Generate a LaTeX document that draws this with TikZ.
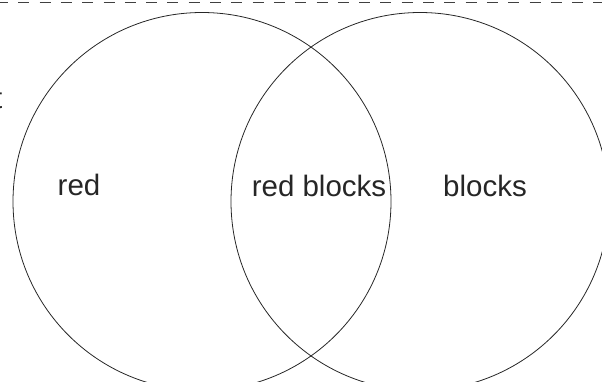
\documentclass[tikz,border=0pt]{standalone}
\usepackage{fontspec}
\setmainfont{Liberation Sans}
\begin{document}
\begin{tikzpicture}[x=1pt,y=-1pt,
  setcircle/.style={draw=black!85,line width=0.8pt},
  setlabel/.style={font=\fontsize{29.5}{36}\selectfont,text=black!85,inner sep=0pt,anchor=base},
  topline/.style={draw=black!75,line width=0.9pt,dash pattern=on 11pt off 10.3pt,dash phase=3pt}]
\useasboundingbox (0,0) rectangle (602,381);
\clip (0,0) rectangle (602,381);
\coordinate (tl) at (0,2.5);
\coordinate (tr) at (602,2.5);
\draw[topline] (tl) -- (tr);
\node[setcircle,circle,minimum size=378pt,inner sep=0pt] (A) at (202,201.5) {};
\node[setcircle,circle,minimum size=378pt,inner sep=0pt] (B) at (420,201.5) {};
\node[setlabel] (la) at (79,195) {red};
\node[setlabel] (lab) at (319,196) {red blocks};
\node[setlabel] (lb) at (485,196) {blocks};
\node[setlabel,anchor=base east] (cut) at (2.5,108) {t};
\end{tikzpicture}
\end{document}
